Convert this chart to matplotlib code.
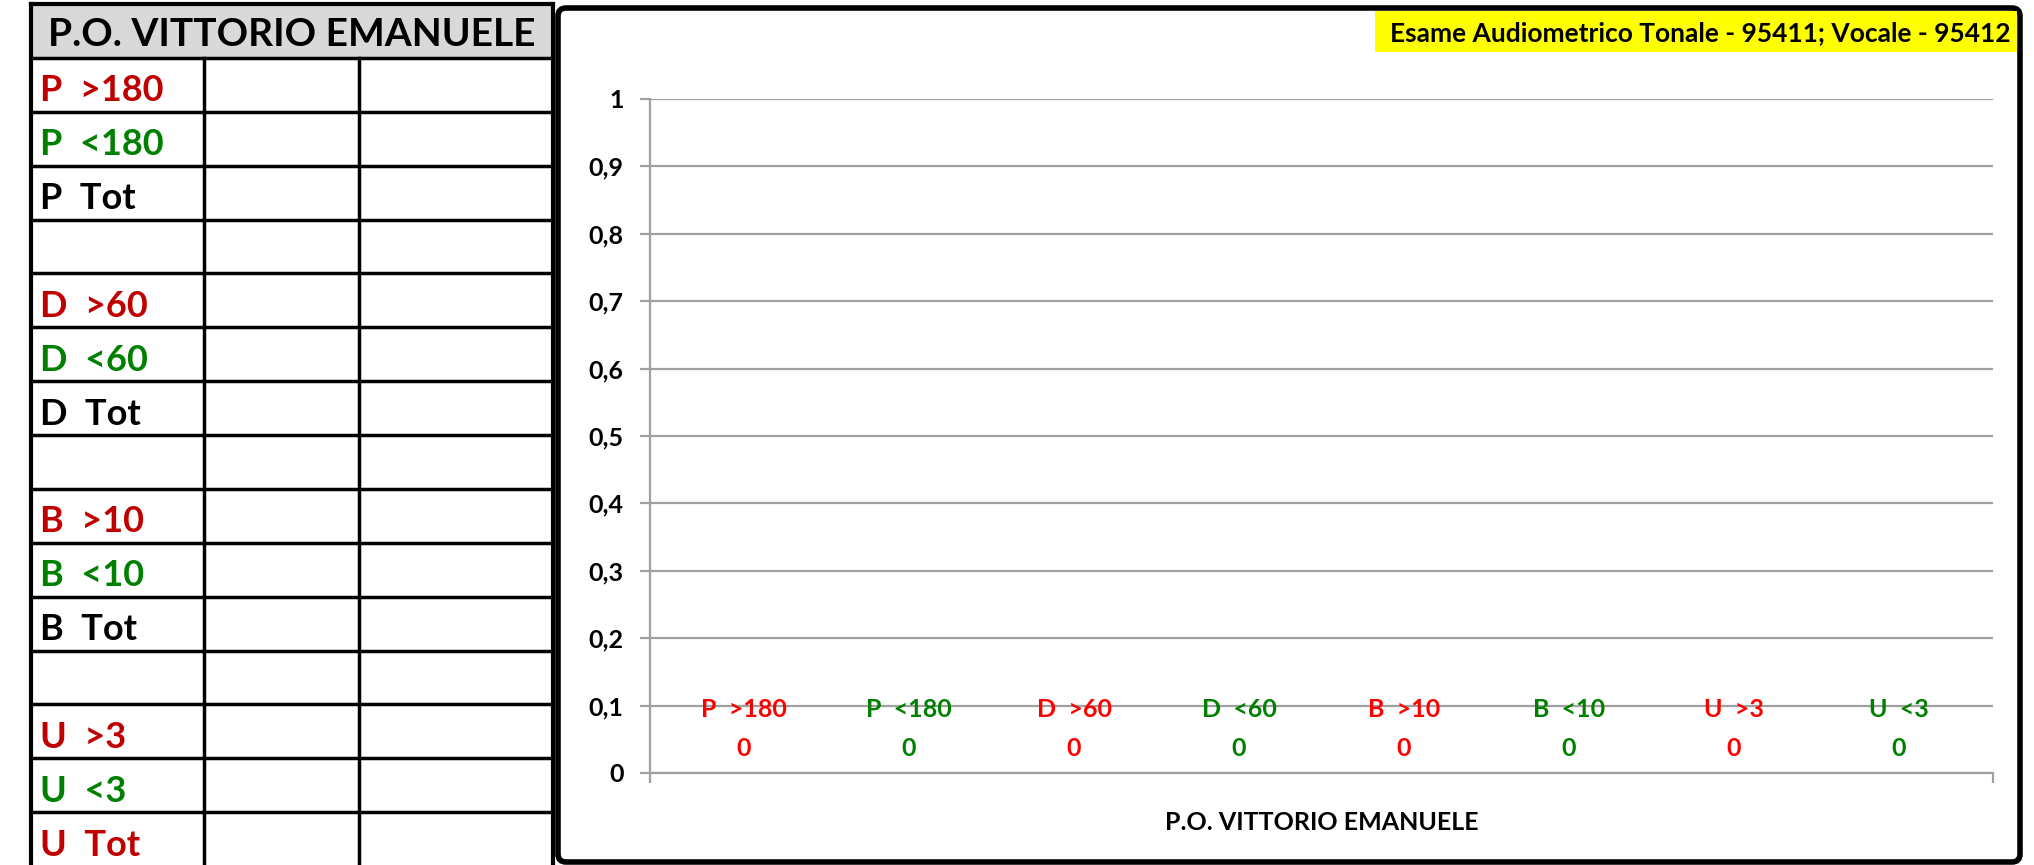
import matplotlib
matplotlib.use("Agg")
import matplotlib.pyplot as plt
from matplotlib.patches import Rectangle, FancyBboxPatch
from matplotlib.ticker import FuncFormatter

plt.rcParams['font.family'] = ['Lato', 'DejaVu Sans']
plt.rcParams['font.weight'] = 'bold'

# ---------------- data ----------------
site = "P.O. VITTORIO EMANUELE"
categories = [site]
series_names = ["P  >180", "P  <180", "D  >60", "D  <60", "B  >10", "B  <10", "U  >3", "U  <3"]
series_values = [0, 0, 0, 0, 0, 0, 0, 0]
series_label_colors = ["#FF0000", "#008000", "#FF0000", "#008000",
                       "#FF0000", "#008000", "#FF0000", "#008000"]
table_labels = ["P  >180", "P  <180", "P  Tot", "",
                "D  >60", "D  <60", "D  Tot", "",
                "B  >10", "B  <10", "B  Tot", "",
                "U  >3", "U  <3", "U  Tot"]
table_colors = ["#C00000", "#008000", "#000000", "#000000",
                "#C00000", "#008000", "#000000", "#000000",
                "#C00000", "#008000", "#000000", "#000000",
                "#C00000", "#008000", "#C00000"]
chart_title = "Esame Audiometrico Tonale - 95411; Vocale - 95412"
y_ticks = [0, 0.1, 0.2, 0.3, 0.4, 0.5, 0.6, 0.7, 0.8, 0.9, 1.0]

# ---------------- figure ----------------
W, H = 2034, 865
DPI = 100
fig = plt.figure(figsize=(W / DPI, H / DPI), dpi=DPI)
fig.patch.set_facecolor("white")

# background layer in pixel coordinates
bg = fig.add_axes([0, 0, 1, 1])
bg.set_xlim(0, W)
bg.set_ylim(H, 0)
bg.axis("off")

# ---- table on the left ----
tx0, tx1 = 31, 553
ty0, head_bottom = 4, 58
row_h = 53.87
col_x = [204, 359]
bg.add_patch(Rectangle((tx0, ty0), tx1 - tx0, head_bottom - ty0,
                       facecolor="#D9D9D9", edgecolor="none", zorder=1))
bg.text((tx0 + tx1) / 2, (ty0 + head_bottom) / 2 + 4, site, ha="center", va="center",
        fontsize=28, fontweight="bold", color="black", zorder=3)
nrows = len(table_labels)
for i, (lab, c) in enumerate(zip(table_labels, table_colors)):
    yc = head_bottom + row_h * (i + 0.5)
    bg.text(tx0 + 9, yc + 6, lab, ha="left", va="center", fontsize=26,
            fontweight="bold", color=c, zorder=3)
lw_in = 2.5
for i in range(nrows + 1):
    y = head_bottom + row_h * i
    bg.plot([tx0, tx1], [y, y], color="black", lw=lw_in, zorder=2, solid_capstyle="butt")
for x in col_x:
    bg.plot([x, x], [head_bottom, H + 5], color="black", lw=lw_in, zorder=2)
bg.plot([tx0, tx0], [ty0, H + 5], color="black", lw=3, zorder=2)
bg.plot([tx1, tx1], [ty0, H + 5], color="black", lw=3, zorder=2)
bg.plot([tx0, tx1], [ty0, ty0], color="black", lw=3, zorder=2)

# ---- chart frame ----
bg.add_patch(FancyBboxPatch((558, 8), 2020 - 558, 862 - 8,
                            boxstyle="round,pad=0,rounding_size=8",
                            facecolor="white", edgecolor="black", lw=4, zorder=1))

# ---- title box ----
bg.add_patch(Rectangle((1375, 11), 2017 - 1375, 52 - 11, facecolor="#FFFF00",
                       edgecolor="none", zorder=2))
bg.text(2011, 33, chart_title, ha="right", va="center", fontsize=19,
        fontweight="bold", color="black", zorder=3)

# ---------------- plot area ----------------
ax_l, ax_r, ax_t, ax_b = 650, 1993, 99, 773
ax = fig.add_axes([ax_l / W, 1 - ax_b / H, (ax_r - ax_l) / W, (ax_b - ax_t) / H])
ax.patch.set_alpha(0)

n = len(series_names)
gap = 0.14
bw = 1.0 / (n + gap)
xs = [-0.5 + gap * bw / 2 + bw * (i + 0.5) for i in range(n)]
ax.bar(xs, series_values, width=bw * 0.9, color="#4F81BD")
for x, v, name, c in zip(xs, series_values, series_names, series_label_colors):
    ax.annotate(str(v), xy=(x, v), xytext=(0, 18), textcoords="offset points",
                ha="center", va="center", fontsize=18, fontweight="bold", color=c)
    ax.annotate(name, xy=(x, v), xytext=(0, 45.5), textcoords="offset points",
                ha="center", va="center", fontsize=18, fontweight="bold", color=c)

ax.set_xlim(-0.5, 0.5)
ax.set_ylim(0, 1)
ax.set_yticks(y_ticks)
ax.yaxis.set_major_formatter(FuncFormatter(lambda v, p: ("%g" % round(v, 1)).replace(".", ",")))
ax.yaxis.grid(True, color="#A0A0A0", lw=1.6)
ax.set_axisbelow(True)
for s in ["top", "right"]:
    ax.spines[s].set_visible(False)
for s in ["left", "bottom"]:
    ax.spines[s].set_color("#A0A0A0")
    ax.spines[s].set_linewidth(1.6)
ax.tick_params(axis="y", colors="#A0A0A0", length=7, width=1.6, pad=12,
               labelcolor="black", labelsize=18)
for lab in ax.get_yticklabels():
    lab.set_fontweight("bold")
ax.set_xticks([0])
ax.set_xticklabels(categories, fontsize=18, fontweight="bold")
ax.tick_params(axis="x", which="major", length=0, pad=27, labelcolor="black")
ax.set_xticks([-0.5, 0.5], minor=True)
ax.tick_params(axis="x", which="minor", length=7, width=1.6, color="#A0A0A0")

fig.savefig("out.png", dpi=DPI, facecolor="white")
